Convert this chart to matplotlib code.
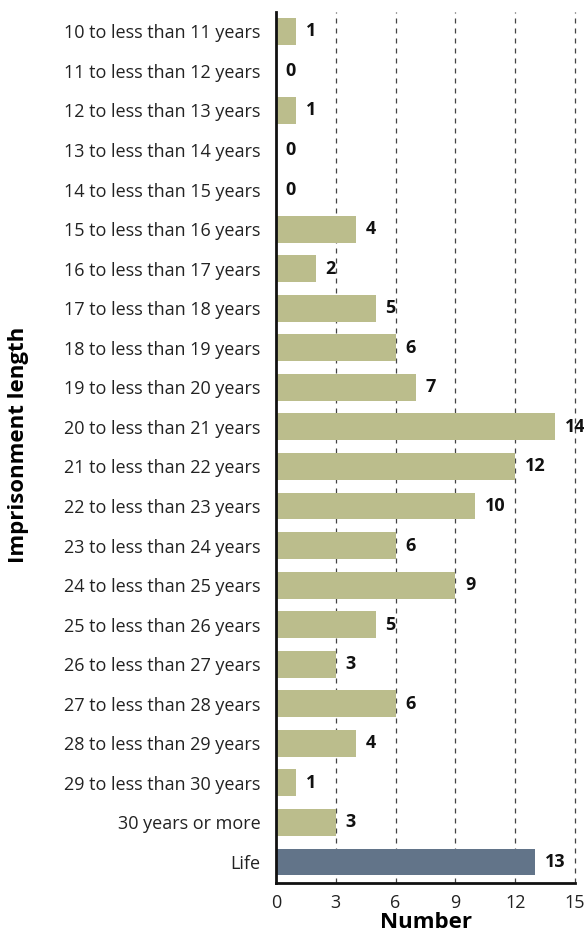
import numpy as np
import matplotlib.pyplot as plt

# data
categories = ["10 to less than 11 years", "11 to less than 12 years", "12 to less than 13 years",
              "13 to less than 14 years", "14 to less than 15 years", "15 to less than 16 years",
              "16 to less than 17 years", "17 to less than 18 years", "18 to less than 19 years",
              "19 to less than 20 years", "20 to less than 21 years", "21 to less than 22 years",
              "22 to less than 23 years", "23 to less than 24 years", "24 to less than 25 years",
              "25 to less than 26 years", "26 to less than 27 years", "27 to less than 28 years",
              "28 to less than 29 years", "29 to less than 30 years", "30 years or more", "Life"]
counts = [1, 0, 1, 0, 0, 4, 2, 5, 6, 7, 14, 12, 10, 6, 9, 5, 3, 6, 4, 1, 3, 13]
x_ticks = [0, 3, 6, 9, 12, 15]

plt.rcParams['font.family'] = ['Open Sans', 'DejaVu Sans']

fig = plt.figure(figsize=(5.84, 9.46), dpi=100)
ax = fig.add_axes([0.4726, 0.0666, 0.512, 0.9204])

pos = np.arange(len(categories))
colors = ['#bbbd8c'] * (len(categories) - 1) + ['#627489']
ax.barh(pos, counts, height=0.68, color=colors, zorder=2)

for p, v in zip(pos, counts):
    ax.annotate(str(v), (v, p), xytext=(7, 0), textcoords='offset points',
                ha='left', va='center', fontsize=13, fontweight='bold',
                color='#111111', annotation_clip=False, zorder=3)

ax.set_xlim(0, 15)
ax.set_ylim(len(categories) - 0.47, -0.48)
ax.set_yticks(pos)
ax.set_yticklabels(categories, fontsize=13, color='#222222')
ax.set_xticks(x_ticks)
ax.set_xticklabels([str(t) for t in x_ticks], fontsize=13, color='#222222')
ax.tick_params(axis='both', length=0)
ax.tick_params(axis='y', pad=11)
ax.tick_params(axis='x', pad=8)

for t in x_ticks[1:]:
    ax.axvline(t, color='#444444', linestyle=(0, (4, 4)), linewidth=0.9,
               zorder=1, clip_on=False)

for s in ['top', 'right']:
    ax.spines[s].set_visible(False)
for s in ['left', 'bottom']:
    ax.spines[s].set_linewidth(2)
    ax.spines[s].set_color('#111111')

ax.set_xlabel('Number', fontsize=16, fontweight='bold', labelpad=0)
fig.text(0.031, 0.53, 'Imprisonment length', rotation=90, ha='center', va='center',
         fontsize=16, fontweight='bold')

plt.savefig('out.png', dpi=100)
